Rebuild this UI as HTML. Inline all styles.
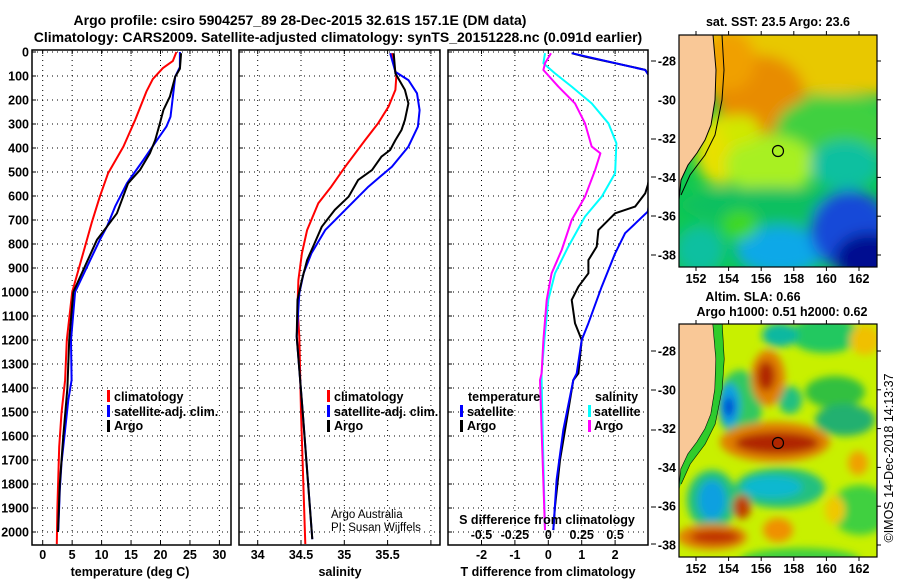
<!DOCTYPE html>
<html><head><meta charset="utf-8">
<style>
html,body{margin:0;padding:0;background:#fff;}
svg{display:block;font-family:"Liberation Sans",Arial,sans-serif;}
.b{font-weight:bold;font-size:12.5px;}
.t{font-weight:bold;font-size:14px;}
</style></head>
<body>
<svg id="chart" width="900" height="580" viewBox="0 0 900 580" xmlns="http://www.w3.org/2000/svg">
<defs>
<clipPath id="c1"><rect x="32" y="50" width="199" height="495"/></clipPath>
<clipPath id="c2"><rect x="239" y="50" width="201" height="495"/></clipPath>
<clipPath id="c3"><rect x="448" y="50" width="200" height="495"/></clipPath>
<clipPath id="m1"><rect x="679" y="35" width="198" height="232"/></clipPath>
<clipPath id="m2"><rect x="679" y="324" width="198" height="233"/></clipPath>
<filter id="bl" x="-50%" y="-50%" width="200%" height="200%"><feGaussianBlur stdDeviation="7"/></filter>
<filter id="bl2" x="-50%" y="-50%" width="200%" height="200%"><feGaussianBlur stdDeviation="4"/></filter>
</defs>
<text class="t" x="300" y="25" text-anchor="middle">Argo profile: csiro 5904257_89 28-Dec-2015 32.61S 157.1E (DM data)</text>
<text class="t" x="338" y="42" text-anchor="middle">Climatology: CARS2009. Satellite-adjusted climatology: synTS_20151228.nc (0.091d earlier)</text>
<g id="grids"></g>
<g id="series"></g>
<g id="axes"></g>

<!-- legends -->
<g>
<rect x="107" y="390" width="3" height="12" fill="#f00"/><text class="b" x="114" y="401">climatology</text>
<rect x="107" y="405" width="3" height="12" fill="#00f"/><text class="b" x="114" y="416">satellite-adj. clim.</text>
<rect x="107" y="420" width="3" height="12" fill="#000"/><text class="b" x="114" y="430">Argo</text>
</g>
<g>
<rect x="327" y="390" width="3" height="12" fill="#f00"/><text class="b" x="334" y="401">climatology</text>
<rect x="327" y="405" width="3" height="12" fill="#00f"/><text class="b" x="334" y="416">satellite-adj. clim.</text>
<rect x="327" y="420" width="3" height="12" fill="#000"/><text class="b" x="334" y="430">Argo</text>
</g>
<text x="331" y="518" font-size="11.5">Argo Australia</text>
<text x="331" y="531" font-size="11.5">PI: Susan Wijffels</text>
<g>
<text class="b" x="468" y="401">temperature</text>
<rect x="460" y="405" width="3" height="12" fill="#00f"/><text class="b" x="467" y="416">satellite</text>
<rect x="460" y="420" width="3" height="12" fill="#000"/><text class="b" x="467" y="430">Argo</text>
<text class="b" x="595" y="401">salinity</text>
<rect x="588" y="405" width="3" height="12" fill="#0ff"/><text class="b" x="594" y="416">satellite</text>
<rect x="588" y="420" width="3" height="12" fill="#f0f"/><text class="b" x="594" y="430">Argo</text>
</g>
<text class="b" x="547" y="524" text-anchor="middle">S difference from climatology</text>

<!-- top map -->
<g clip-path="url(#m1)">
<rect x="679" y="35" width="198" height="232" fill="#10c850"/>
<g filter="url(#bl)">
<rect x="679" y="20" width="220" height="75" fill="#e8c800"/>
<ellipse cx="760" cy="95" rx="45" ry="40" fill="#e88c00"/>
<ellipse cx="730" cy="60" rx="25" ry="30" fill="#f0a000"/>
<ellipse cx="835" cy="130" rx="60" ry="35" fill="#40d040"/>
<ellipse cx="720" cy="150" rx="25" ry="35" fill="#e8e000"/>
<ellipse cx="770" cy="165" rx="45" ry="30" fill="#a8f020"/>
<ellipse cx="740" cy="130" rx="20" ry="15" fill="#d0e800"/>
<ellipse cx="770" cy="205" rx="90" ry="18" fill="#10c060"/>
<ellipse cx="845" cy="165" rx="35" ry="25" fill="#10c0a0"/>
<ellipse cx="780" cy="250" rx="45" ry="25" fill="#10a8e8"/>
<ellipse cx="850" cy="230" rx="40" ry="40" fill="#1848d8"/>
<ellipse cx="870" cy="258" rx="35" ry="25" fill="#000c90"/>
<ellipse cx="700" cy="250" rx="25" ry="25" fill="#10c0a0"/>
<ellipse cx="740" cy="225" rx="18" ry="15" fill="#40d820"/>
</g>
<polygon points="679,35 713,35 716,70 715,100 711,125 705,140 697,153 688,165 681,180 679,200" fill="#f9c897" stroke="#000" stroke-width="1"/>
<polyline points="722,35 724,70 722,100 715,135 705,155 690,175 681,195" fill="none" stroke="#000" stroke-width="1"/>
<circle cx="778" cy="151" r="5.5" fill="none" stroke="#000" stroke-width="1.2"/>
</g>
<rect x="679" y="35" width="198" height="232" fill="none" stroke="#000" stroke-width="1.2"/>
<text class="b" x="778" y="26" text-anchor="middle">sat. SST: 23.5 Argo: 23.6</text>

<!-- bottom map -->
<g clip-path="url(#m2)">
<rect x="679" y="324" width="198" height="233" fill="#c8f000"/>
<g filter="url(#bl2)">
<ellipse cx="825" cy="335" rx="35" ry="18" fill="#20c860"/>
<ellipse cx="780" cy="335" rx="18" ry="12" fill="#10b8a0"/>
<ellipse cx="835" cy="392" rx="30" ry="16" fill="#30c040"/>
<ellipse cx="845" cy="420" rx="30" ry="16" fill="#20b070"/>
<ellipse cx="740" cy="405" rx="22" ry="35" fill="#30c860"/>
<ellipse cx="790" cy="400" rx="12" ry="14" fill="#20c080"/>
<ellipse cx="768" cy="378" rx="17" ry="28" fill="#e08000"/>
<ellipse cx="766" cy="376" rx="9" ry="15" fill="#b02800"/>
<ellipse cx="729" cy="405" rx="11" ry="22" fill="#10a0e0"/>
<ellipse cx="729" cy="407" rx="5" ry="10" fill="#0040d0"/>
<ellipse cx="775" cy="442" rx="55" ry="20" fill="#e08000"/>
<ellipse cx="777" cy="443" rx="42" ry="11" fill="#b02800"/>
<ellipse cx="780" cy="488" rx="45" ry="20" fill="#20c080"/>
<ellipse cx="772" cy="487" rx="30" ry="11" fill="#10b8d0"/>
<ellipse cx="712" cy="500" rx="25" ry="30" fill="#20c080"/>
<ellipse cx="712" cy="500" rx="14" ry="20" fill="#10a0e0"/>
<ellipse cx="742" cy="507" rx="9" ry="12" fill="#c04000"/>
<ellipse cx="712" cy="537" rx="35" ry="13" fill="#e08000"/>
<ellipse cx="715" cy="537" rx="25" ry="7" fill="#c03000"/>
<ellipse cx="778" cy="530" rx="15" ry="12" fill="#f09000"/>
<ellipse cx="858" cy="463" rx="10" ry="12" fill="#f0a000"/>
<ellipse cx="865" cy="340" rx="15" ry="15" fill="#f0c000"/>
<ellipse cx="860" cy="510" rx="30" ry="25" fill="#40d040"/>
<ellipse cx="800" cy="560" rx="60" ry="12" fill="#40d040"/>
<ellipse cx="835" cy="510" rx="10" ry="14" fill="#f0c800"/>
</g>
<polygon points="679,324 713,324 716,359 715,389 711,414 705,429 697,442 688,454 681,469 679,489" fill="#f9c897" stroke="#000" stroke-width="1"/>
<polyline points="722,324 724,359 722,389 715,424 705,444 690,464 681,484" fill="none" stroke="#000" stroke-width="1"/>
<path d="M713,324 L722,324 724,359 722,389 715,424 705,444 690,464 681,484 679,489 681,469 688,454 697,442 705,429 711,414 715,389 716,359Z" fill="#20c830" opacity="0.9"/>
<circle cx="778" cy="443" r="5.5" fill="none" stroke="#000" stroke-width="1.2"/>
</g>
<rect x="679" y="324" width="198" height="233" fill="none" stroke="#000" stroke-width="1.2"/>
<text class="b" x="753" y="301" text-anchor="middle">Altim. SLA: 0.66</text>
<text class="b" x="782" y="316" text-anchor="middle">Argo h1000: 0.51 h2000: 0.62</text>
<text x="893" y="458" font-size="12.5" text-anchor="middle" transform="rotate(-90 893 458)">©IMOS 14-Dec-2018 14:13:37</text>
<g id="mapaxes"></g>

<script>
// ===== data =====
const depthTicks = [0,100,200,300,400,500,600,700,800,900,1000,1100,1200,1300,1400,1500,1600,1700,1800,1900,2000];
const tempTicks = [0,5,10,15,20,25,30];
const salTicks = [34,34.5,35,35.5];
const salGrid = [34,34.5,35,35.5,36];
const tdiffTicks = [-2,-1,0,1,2];
const sdiffTicks = [-0.5,-0.25,0,0.25,0.5];
const sdiffLabels = ['-0.5','-0.25','0','0.25','0.5'];

const tClimDepth = [0,37,67,113,165,283,394,505,603,713,783,1000,1200,1367,1504,1645,1896,2050];
const tClimVal   = [22.7,22.1,20.4,18.7,17.6,15.7,13.7,11.1,9.7,8.3,7.5,5.0,4.1,3.8,3.2,2.8,2.5,2.4];
const tSatDepth = [0,63,103,228,270,311,367,450,547,644,728,783,1000,1200,1367,1450,1575,1712,1825,1992];
const tSatVal   = [23.3,23.3,22.5,21.9,21.7,21.0,19.4,17.1,14.3,12.3,10.9,9.7,5.5,4.8,4.9,4.35,3.8,3.2,2.9,2.65];
const tArgoDepth = [5,70,103,186,242,297,367,422,492,547,672,728,783,1000,1200,1400,1600,1800,2000];
const tArgoVal   = [23.5,23.3,22.5,21.6,20.5,19.9,19.1,18.2,16.5,14.5,12.6,10.9,9.2,5.2,4.5,4.2,3.5,2.9,2.6];

const sClimDepth = [5,103,158,228,297,367,478,561,630,742,839,950,1061,1186,1500,2050];
const sClimVal   = [35.55,35.6,35.59,35.51,35.39,35.24,35.01,34.85,34.70,34.57,34.51,34.47,34.46,34.48,34.5,34.55];
const sSatDepth = [5,83,117,172,242,311,394,478,561,658,742,839,922,1006,1186,1500,2030];
const sSatVal   = [35.53,35.59,35.74,35.84,35.87,35.85,35.74,35.55,35.28,35.01,34.78,34.62,34.53,34.48,34.45,34.52,34.63];
const sArgoDepth = [5,89,158,214,283,325,367,408,436,492,533,603,658,728,811,867,950,1033,1186,1500,2030];
const sArgoVal   = [35.57,35.59,35.70,35.74,35.70,35.66,35.59,35.53,35.43,35.32,35.16,35.05,34.89,34.74,34.64,34.57,34.51,34.46,34.45,34.52,34.63];

const dtArgoDepth = [5,19,74,200,554,589,644,672,742,811,867,922,978,1033,1130,1200,1339,1367,1533,1700,1894,1992];
const dtArgoVal   = [0.7,1.1,2.9,3.5,2.98,2.9,2.6,2.0,1.5,1.45,1.2,1.2,0.9,0.7,0.8,1.0,0.9,0.75,0.55,0.35,0.2,0.15];
const dtSatDepth = [5,75,200,665,755,839,978,1130,1200,1339,1367,1575,1783,1992];
const dtSatVal   = [0.7,2.9,3.5,2.98,2.3,2.0,1.6,1.2,1.0,0.85,0.75,0.45,0.25,0.15];
const dsSatDepth = [5,47,89,144,214,297,380,505,603,686,811,922,1033,1172,1339,1367,1712,1992];
const dsSatVal   = [-0.025,-0.037,0.05,0.175,0.325,0.45,0.51,0.5,0.4,0.275,0.15,0.05,0,-0.025,-0.05,-0.05,-0.037,-0.025];
const dsArgoDepth = [5,47,75,144,214,297,394,422,492,603,700,825,922,1033,1200,1339,1367,1575,1992];
const dsArgoVal   = [0.02,-0.025,-0.037,0.075,0.2,0.275,0.325,0.39,0.35,0.275,0.175,0.1,0.025,-0.012,-0.037,-0.05,-0.062,-0.05,-0.025];

const lonTicks = [152,154,156,158,160,162];
const latTicks = [-28,-30,-32,-34,-36,-38];

// ===== scales =====
const NS='http://www.w3.org/2000/svg';
const yD = d => 52 + d*0.24;
const xT = v => 42.7 + v*5.89;
const xS = v => 257.7 + (v-34)*86.6;
const xDT = v => 548.3 + v*33.4;
const xDS = v => 548.3 + v*133.6;
const lonX = v => 696 + (v-152)*16.3;
const latY1 = v => 61 + (-28 - v)*19.4;
const latY2 = v => 351 + (-28 - v)*19.4;

function mk(tag, attrs, parent){const e=document.createElementNS(NS,tag);for(const k in attrs)e.setAttribute(k,attrs[k]);parent.appendChild(e);return e;}
const grids=document.getElementById('grids'), series=document.getElementById('series'), axes=document.getElementById('axes'), mapaxes=document.getElementById('mapaxes');

const panels=[{x0:32,x1:231,vg:tempTicks.map(xT)},{x0:239,x1:440,vg:salGrid.map(xS)},{x0:448,x1:648,vg:tdiffTicks.map(xDT)}];
panels.forEach((p,i)=>{
  depthTicks.forEach(d=>{
    const l=mk('line',{x1:p.x0,x2:p.x1,y1:yD(d),y2:yD(d),stroke:'#000','stroke-width':1,'stroke-dasharray':'1,4'},grids);
    
    
    mk('line',{x1:p.x0,x2:p.x0+4,y1:yD(d),y2:yD(d),stroke:'#000','stroke-width':1},axes);
  });
  p.vg.forEach(x=>{
    const l=mk('line',{x1:x,x2:x,y1:50,y2:545,stroke:'#000','stroke-width':1,'stroke-dasharray':'1,4'},grids);
    
    
    mk('line',{x1:x,x2:x,y1:545,y2:541,stroke:'#000','stroke-width':1},axes);
    mk('line',{x1:x,x2:x,y1:50,y2:54,stroke:'#000','stroke-width':1},axes);
  });
  const r=mk('rect',{x:p.x0,y:50,width:p.x1-p.x0,height:495,fill:'none',stroke:'#000','stroke-width':1.5},axes);
  
  
});
// right-side ticks on panel 3
[61,139,177,216,255,351,390,430,507,544].forEach(y=>mk('line',{x1:651,x2:656,y1:y,y2:y,stroke:'#000','stroke-width':1},axes));

depthTicks.forEach(d=>{
  const t=mk('text',{x:29,y:yD(d)+4.5,'text-anchor':'end',class:'b'},axes);
  t.textContent=d;
  
  
});
function xlab(vals, fx, labels, y, name){
  vals.forEach((v,i)=>{
    const t=mk('text',{x:fx(v),y:y,'text-anchor':'middle',class:'b'},axes);
    t.textContent=labels?labels[i]:v;
    
    
  });
}
xlab(tempTicks,xT,null,559,'temperature-tick-label');
xlab(salTicks,xS,null,559,'salinity-tick-label');
xlab(tdiffTicks,xDT,null,559,'t-diff-tick-label');
xlab(sdiffTicks,xDS,sdiffLabels,539,'s-diff-tick-label');
function title(txt,x,name){const t=mk('text',{x:x,y:576,'text-anchor':'middle',class:'b'},axes);t.textContent=txt;}
title('temperature (deg C)',130,'temperature-axis-title');
title('salinity',340,'salinity-axis-title');
title('T difference from climatology',548,'t-diff-axis-title');

function line(depths, vals, fx, color, clip, name, w){
  const pts=depths.map((d,i)=>fx(vals[i]).toFixed(1)+','+yD(d).toFixed(1)).join(' ');
  const pl=mk('polyline',{points:pts,fill:'none',stroke:color,'stroke-width':w||2,'clip-path':'url(#'+clip+')','stroke-linejoin':'round'},series);
  
  
}
line(tClimDepth,tClimVal,xT,'#f00','c1','temp-climatology-line');
line(tSatDepth,tSatVal,xT,'#00f','c1','temp-satellite-line');
line(tArgoDepth,tArgoVal,xT,'#000','c1','temp-argo-line');
line(sClimDepth,sClimVal,xS,'#f00','c2','sal-climatology-line');
line(sSatDepth,sSatVal,xS,'#00f','c2','sal-satellite-line');
line(sArgoDepth,sArgoVal,xS,'#000','c2','sal-argo-line');
line(dsSatDepth,dsSatVal,xDS,'#0ff','c3','s-diff-satellite-line');
line(dsArgoDepth,dsArgoVal,xDS,'#f0f','c3','s-diff-argo-line');
line(dtArgoDepth,dtArgoVal,xDT,'#000','c3','t-diff-argo-line');
line(dtSatDepth,dtSatVal,xDT,'#00f','c3','t-diff-satellite-line');

// map axes
[[35,267,latY1],[324,557,latY2]].forEach(([y0,y1,fy],mi)=>{
  lonTicks.forEach(v=>{
    mk('line',{x1:lonX(v),x2:lonX(v),y1:y0,y2:y0-4,stroke:'#000'},mapaxes);
    mk('line',{x1:lonX(v),x2:lonX(v),y1:y1,y2:y1+4,stroke:'#000'},mapaxes);
    const t=mk('text',{x:lonX(v),y:y1+16,'text-anchor':'middle',class:'b'},mapaxes);
    t.textContent=v;
    
    
  });
  latTicks.forEach(v=>{
    mk('line',{x1:877,x2:881,y1:fy(v),y2:fy(v),stroke:'#000'},mapaxes);
    const t=mk('text',{x:676,y:fy(v)+4.5,'text-anchor':'end',class:'b'},mapaxes);
    t.textContent=v;
    
    
  });
});
</script>
</svg>
</body></html>
